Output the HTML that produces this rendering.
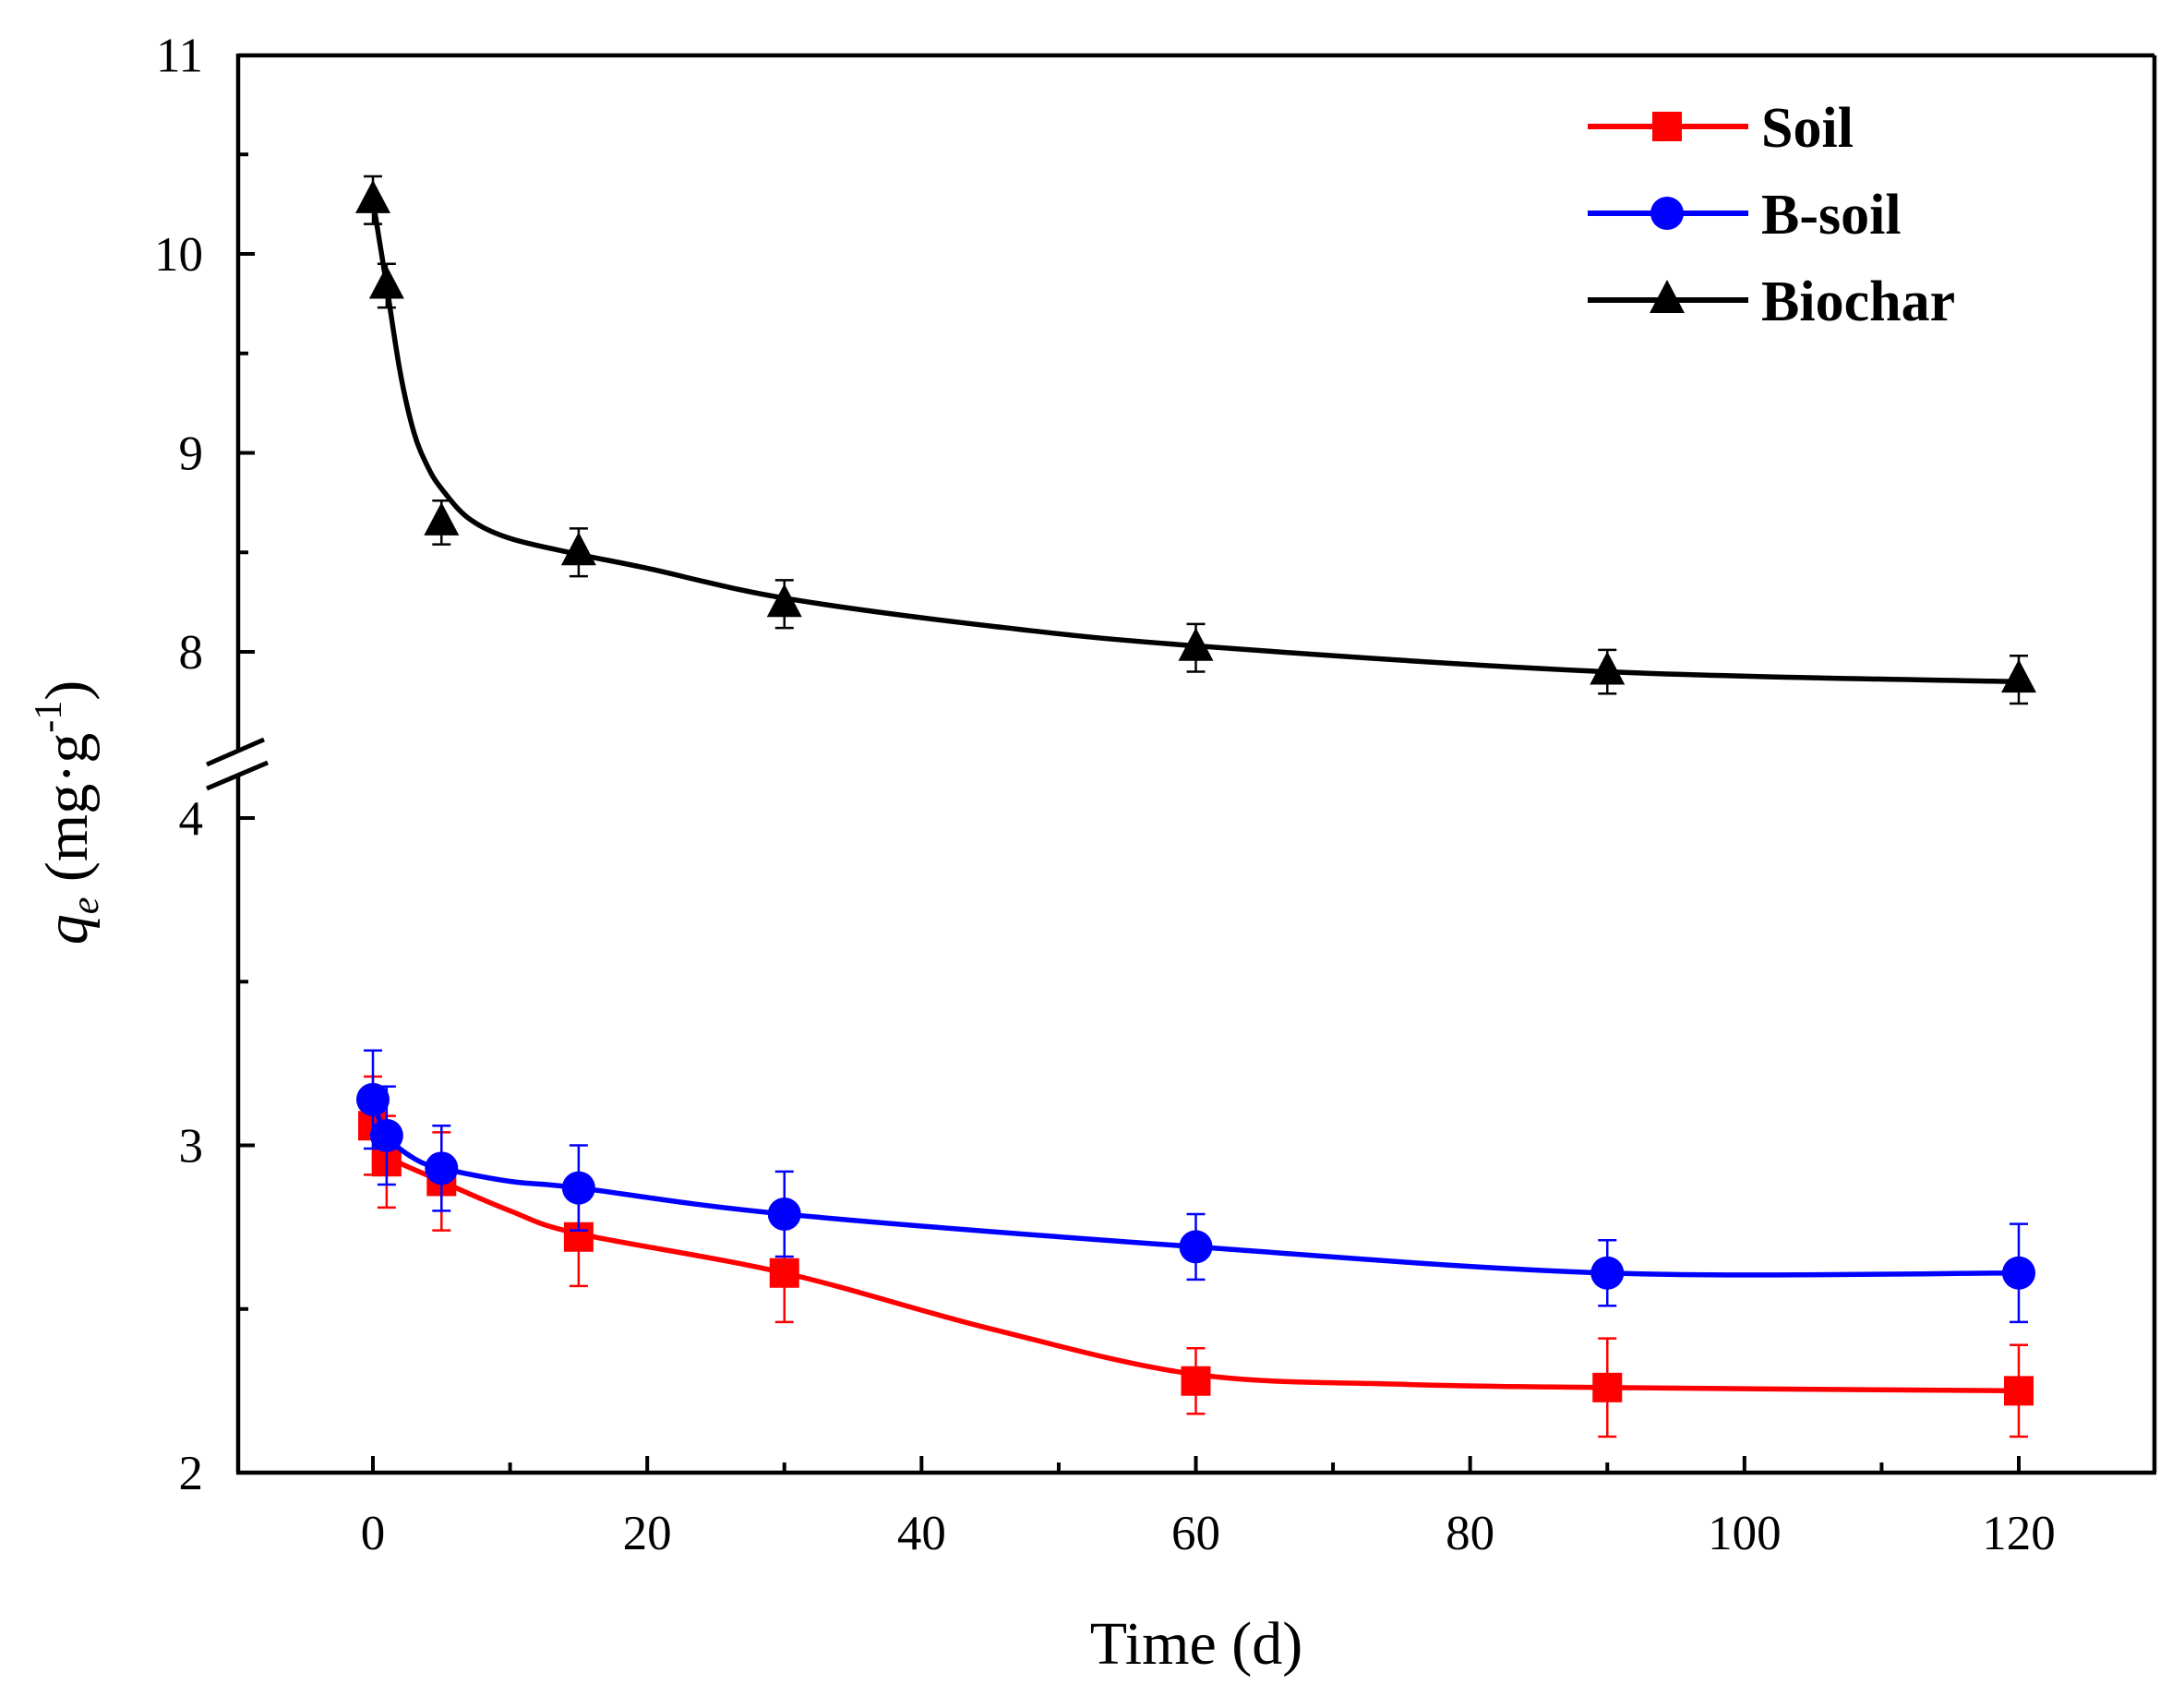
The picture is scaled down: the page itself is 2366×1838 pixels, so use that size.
<!DOCTYPE html>
<html><head><meta charset="utf-8"><style>
html,body{margin:0;padding:0;background:#fff;}
svg{display:block;font-family:"Liberation Serif",serif;}
</style></head><body>
<svg id="chart" width="2366" height="1838" viewBox="0 0 2366 1838"></svg>
<script>
const times=[0,1,5,15,30,60,90,120];
const biocharVals=[10.27,9.84,8.65,8.5,8.24,8.02,7.9,7.86];
const biocharErr=[0.12,0.11,0.11,0.12,0.12,0.12,0.11,0.12];
const bsoilVals=[3.14,3.03,2.93,2.87,2.79,2.69,2.61,2.61];
const bsoilErr=[0.15,0.15,0.13,0.13,0.13,0.1,0.1,0.15];
const soilVals=[3.06,2.95,2.89,2.72,2.61,2.28,2.26,2.25];
const soilErr=[0.15,0.14,0.15,0.15,0.15,0.1,0.15,0.14];
const biocharFitT=[0,1,2,3,4,5,7,10,15,20,30,45,60,90,120];
const biocharFitV=[10.27,9.84,9.4,9.1,8.93,8.82,8.67,8.57,8.49,8.42,8.27,8.13,8.03,7.9,7.85];
const bsoilFitT=[0,1,3,5,10,15,30,60,90,120];
const bsoilFitV=[3.14,3.03,2.96,2.93,2.89,2.87,2.79,2.69,2.61,2.61];
const soilFitT=[0,1,5,10,15,30,45,60,75,90,120];
const soilFitV=[3.05,2.97,2.89,2.8,2.73,2.61,2.44,2.3,2.27,2.26,2.25];
const xTicks=[0,20,40,60,80,100,120];
const yTicksUpper=[8,9,10,11];
const yTicksLower=[2,3,4];

const svg=document.getElementById('chart');
const NS='http://www.w3.org/2000/svg';
function mk(tag,attrs,parent){const e=document.createElementNS(NS,tag);for(const k in attrs)e.setAttribute(k,attrs[k]);(parent||svg).appendChild(e);return e;}
const L=258,R=2334,T=60,B=1595;
function X(t){return 404+(t-0)*(2187-404)/120;}
function Y(v){return v>=5?706-(v-8)*215.5:1595-(v-2)*354.5;}

const frame=mk('g',{});


mk('line',{x1:L,y1:T,x2:R,y2:T,stroke:'#000','stroke-width':4.5},frame);
mk('line',{x1:R,y1:T,x2:R,y2:B,stroke:'#000','stroke-width':4.5},frame);
mk('line',{x1:L-2,y1:B,x2:R+2,y2:B,stroke:'#000','stroke-width':4.5},frame);
mk('line',{x1:L,y1:T-2,x2:L,y2:813,stroke:'#000','stroke-width':4.5},frame);
mk('line',{x1:L,y1:840,x2:L,y2:B,stroke:'#000','stroke-width':4.5},frame);
const brk=mk('g',{});


mk('line',{x1:224,y1:828,x2:286,y2:801,stroke:'#000','stroke-width':5},brk);
mk('line',{x1:224,y1:854,x2:290,y2:826,stroke:'#000','stroke-width':5},brk);

for(let t=-10;t<=130;t+=10){
  const x=X(t); if(x<L+3||x>R-3) continue;
  const major=t%20===0;
  mk('line',{x1:x,y1:B,x2:x,y2:B-(major?18:11),stroke:'#000','stroke-width':4});
}
xTicks.forEach(t=>{
  const tx=mk('text',{x:X(t),y:1678,'text-anchor':'middle','font-size':53});
  tx.textContent=t;
  
  
});
function yTick(v,major){mk('line',{x1:L,y1:Y(v),x2:L+(major?18:11),y2:Y(v),stroke:'#000','stroke-width':4});}
[8,8.5,9,9.5,10,10.5].forEach(v=>yTick(v,v%1===0));
[2.5,3,3.5,4].forEach(v=>yTick(v,v%1===0));
yTicksUpper.concat(yTicksLower).forEach(v=>{
  const tx=mk('text',{x:220,y:Y(v)+18,'text-anchor':'end','font-size':53});
  tx.textContent=v;
  
  
});
const xt=mk('text',{x:1296,y:1802,'text-anchor':'middle','font-size':66});
xt.textContent='Time (d)';


const yt=mk('text',{x:0,y:0,'text-anchor':'middle','font-size':66,transform:'translate(94,880) rotate(-90)'});
yt.innerHTML='<tspan font-style="italic">q</tspan><tspan font-style="italic" font-size="42" dy="12">e</tspan><tspan dy="-12"> (mg·g</tspan><tspan font-size="42" dy="-28">-1</tspan><tspan dy="28">)</tspan>';



function smooth(ts,vs){
  const p=ts.map((t,i)=>[X(t),Y(vs[i])]);
  let d='M'+p[0][0]+','+p[0][1];
  for(let i=0;i<p.length-1;i++){
    const p0=p[i-1]||p[i],p1=p[i],p2=p[i+1],p3=p[i+2]||p2;
    const c1=[p1[0]+(p2[0]-p0[0])/6,p1[1]+(p2[1]-p0[1])/6];
    const c2=[p2[0]-(p3[0]-p1[0])/6,p2[1]-(p3[1]-p1[1])/6];
    d+=` C${c1[0]},${c1[1]} ${c2[0]},${c2[1]} ${p2[0]},${p2[1]}`;
  }
  return d;
}
function marker(kind,x,y,color,g){
  if(kind==='sq') return mk('rect',{x:x-16,y:y-16,width:32,height:32,fill:color},g);
  if(kind==='ci') return mk('circle',{cx:x,cy:y,r:18,fill:color},g);
  return mk('polygon',{points:`${x},${y-22} ${x-19},${y+14} ${x+19},${y+14}`,fill:color},g);
}
function series(name,vals,err,fitT,fitV,color,kind){
  const g=mk('g',{});
  
  
  const path=mk('path',{d:smooth(fitT,fitV),fill:'none',stroke:color,'stroke-width':5.5},g);
  
  
  times.forEach((t,i)=>{
    const x=X(t),y1=Y(vals[i]+err[i]),y2=Y(vals[i]-err[i]);
    const eb=mk('path',{d:`M${x},${y1}V${y2}M${x-10},${y1}H${x+10}M${x-10},${y2}H${x+10}`,stroke:color,'stroke-width':2.5,fill:'none'},g);
    
    
    const m=marker(kind,x,Y(vals[i]),color,g);
    
    
  });
}
series('soil',soilVals,soilErr,soilFitT,soilFitV,'#f00','sq');
series('b-soil',bsoilVals,bsoilErr,bsoilFitT,bsoilFitV,'#00f','ci');
series('biochar',biocharVals,biocharErr,biocharFitT,biocharFitV,'#000','tr');

const legendItems=[['Soil','#f00','sq'],['B-soil','#00f','ci'],['Biochar','#000','tr']];
legendItems.forEach((it,i)=>{
  const y=137+i*94;
  const g=mk('g',{});
  
  
  mk('line',{x1:1720,y1:y,x2:1894,y2:y,stroke:it[1],'stroke-width':6},g);
  marker(it[2],1806,y,it[1],g);
  const tx=mk('text',{x:1908,y:y+22,'font-size':62,'font-weight':'bold'},g);
  tx.textContent=it[0];
});
</script>
</body></html>
